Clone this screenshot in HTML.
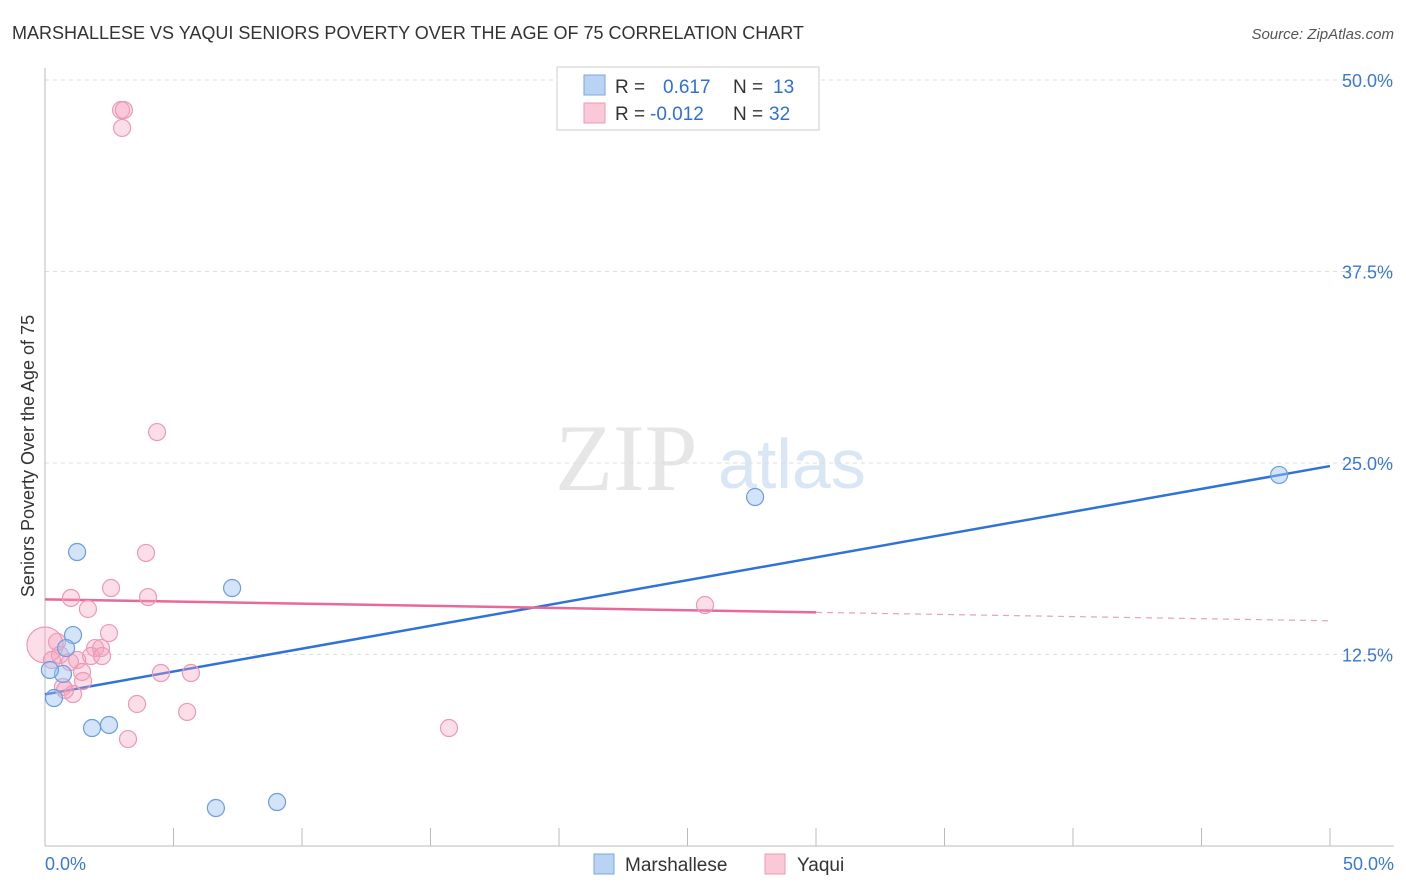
<!DOCTYPE html>
<html><head><meta charset="utf-8"><style>
body{margin:0;background:#fff;font-family:"Liberation Sans",sans-serif;}
svg{display:block}
</style></head><body>
<svg id="c" width="1406" height="892">
<text x="12" y="39" font-size="18" fill="#333">MARSHALLESE VS YAQUI SENIORS POVERTY OVER THE AGE OF 75 CORRELATION CHART</text>
<text x="1394" y="39" font-size="15" fill="#555" font-style="italic" text-anchor="end">Source: ZipAtlas.com</text>
<text transform="translate(34,456) rotate(-90)" font-size="18" fill="#333" text-anchor="middle">Seniors Poverty Over the Age of 75</text>
<text x="555" y="490" font-size="95" fill="#e6e6e6" font-family="Liberation Serif,serif">ZIP</text>
<text x="718" y="488" font-size="70" fill="#d8e6f5">atlas</text>
<g id="grid"></g><g id="axes"></g><g id="lines"></g><g id="pts"></g>
<g>
<rect x="557" y="67" width="262" height="63" fill="#fff" stroke="#ccc"/>
<rect x="584" y="75" width="21" height="20" fill="#b9d3f5" stroke="#7aa7e0"/>
<rect x="584" y="103" width="21" height="20" fill="#fbc8d8" stroke="#eb9ab4"/>
<text x="615" y="93" font-size="19" fill="#333">R =</text><text x="663" y="93" font-size="19" fill="#2f6fd6">0.617</text>
<text x="733" y="93" font-size="19" fill="#333">N =</text><text x="773" y="93" font-size="19" fill="#2f6fd6">13</text>
<text x="615" y="120" font-size="19" fill="#333">R =</text><text x="650" y="120" font-size="19" fill="#2f6fd6">-0.012</text>
<text x="733" y="120" font-size="19" fill="#333">N =</text><text x="769" y="120" font-size="19" fill="#2f6fd6">32</text>
</g>
<g>
<rect x="594" y="854" width="20" height="20" fill="#b9d3f5" stroke="#7aa7e0"/>
<text x="625" y="871" font-size="19" fill="#333">Marshallese</text>
<rect x="765" y="854" width="20" height="20" fill="#fbc8d8" stroke="#eb9ab4"/>
<text x="797" y="871" font-size="19" fill="#333">Yaqui</text>
</g>
</svg>
<script>
const yTicks=[12.5,25,37.5,50];
const yTickLabels=["12.5%","25.0%","37.5%","50.0%"];
const xTickLabels=["0.0%","50.0%"];
const blueX=[1.25,7.28,1.09,0.82,0.70,0.19,0.35,1.83,2.49,6.65,9.03,27.63,48.02];
const blueY=[19.19,16.84,13.77,12.92,11.23,11.49,9.66,7.70,7.90,2.48,2.87,22.78,24.22];
const pinkX=[2.96,3.07,3.00,4.36,3.93,2.57,1.01,4.01,1.67,2.49,25.68,1.95,2.18,1.79,2.22,1.25,0.58,0.47,0,1.44,4.51,5.68,1.48,0.70,1.09,3.58,5.53,3.23,15.72,0.27,0.78,0.97];
const pinkY=[48.04,48.04,46.87,27.02,19.13,16.84,16.19,16.25,15.47,13.90,15.73,12.92,12.92,12.40,12.40,12.14,12.47,13.32,13.12,11.36,11.29,11.29,10.77,10.38,9.92,9.27,8.75,6.98,7.70,12.14,10.18,12.01];
const blueTrend=[9.9,24.8];
const pinkTrend=[16.1,15.25,14.7];
const X=v=>45+v/50*1285, Y=v=>846-v/50*766;
const NS="http://www.w3.org/2000/svg";
function mk(t,a,p){const e=document.createElementNS(NS,t);for(const k in a)e.setAttribute(k,a[k]);p.appendChild(e);return e;}
const g=document.getElementById('grid'),ax=document.getElementById('axes'),ln=document.getElementById('lines'),pt=document.getElementById('pts');
yTicks.forEach((v,i)=>{
 const l=mk('line',{x1:45,x2:1394,y1:Y(v),y2:Y(v),stroke:'#ddd','stroke-dasharray':'4,4'},g);
 
 
 const t=mk('text',{x:1393,y:Y(v)+7,'font-size':18,fill:'#3a78d4','text-anchor':'end'},g);
 t.textContent=yTickLabels[i];
 
 
});
mk('line',{x1:45,x2:45,y1:68,y2:846,stroke:'#bbb'},ax);
mk('line',{x1:45,x2:1394,y1:846,y2:846,stroke:'#bbb'},ax);
for(let i=0;i<=10;i++){mk('line',{x1:X(i*5),x2:X(i*5),y1:828,y2:846,stroke:'#bbb'},ax);}
[[0,"start",45],[1,"end",1394]].forEach(([i,a,x])=>{
 const t=mk('text',{x:x,y:870,'font-size':18,fill:'#3a78d4','text-anchor':a},ax);
 t.textContent=xTickLabels[i];
 
 
});
const bl=mk('line',{x1:X(0),y1:Y(blueTrend[0]),x2:X(50),y2:Y(blueTrend[1]),stroke:'#2f72d8','stroke-width':2.5},ln);


const pl=mk('line',{x1:X(0),y1:Y(pinkTrend[0]),x2:X(30),y2:Y(pinkTrend[1]),stroke:'#e8689a','stroke-width':2.5},ln);


const pd=mk('line',{x1:X(30),y1:Y(pinkTrend[1]),x2:X(50),y2:Y(pinkTrend[2]),stroke:'#e8a0bb','stroke-width':1.2,'stroke-dasharray':'6,5'},ln);


pinkX.forEach((x,i)=>{
 const c=mk('circle',{cx:X(x),cy:Y(pinkY[i]),r:(x===0?18:8.5),fill:'rgba(245,160,190,0.35)',stroke:'#eb9ab4','stroke-width':1.2},pt);
 
 
});
blueX.forEach((x,i)=>{
 const c=mk('circle',{cx:X(x),cy:Y(blueY[i]),r:8.5,fill:'rgba(160,196,240,0.45)',stroke:'#6a9de0','stroke-width':1.2},pt);
 
 
});
</script>
</body></html>
